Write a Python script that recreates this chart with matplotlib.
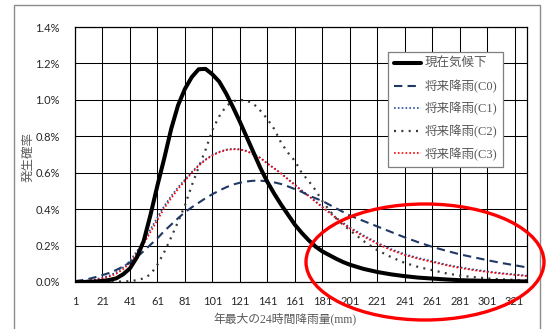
import matplotlib
matplotlib.use('Agg')
import matplotlib.pyplot as plt
from matplotlib.patches import Ellipse, Rectangle
from matplotlib.ticker import FuncFormatter

# rainfall (mm): step 5 up to 201, then step 10
rain = list(range(1, 202, 5)) + list(range(211, 322, 10)) + [330]

# probability (%)
current = [0.000, 0.000, 0.001, 0.003, 0.006, 0.011, 0.020, 0.042, 0.075, 0.135,
           0.225, 0.370, 0.530, 0.680, 0.840, 0.970, 1.060, 1.125, 1.168, 1.170,
           1.140, 1.100, 1.035, 0.960, 0.880, 0.795, 0.710, 0.625, 0.550, 0.485,
           0.425, 0.370, 0.315, 0.270, 0.230, 0.195, 0.168, 0.148, 0.128, 0.110,
           0.095,
           0.072, 0.055, 0.042, 0.032, 0.024, 0.019, 0.014, 0.010, 0.008, 0.006,
           0.005, 0.004, 0.003]
c0 = [0.005, 0.010, 0.017, 0.027, 0.038, 0.050, 0.066, 0.085, 0.107, 0.135,
      0.170, 0.205, 0.240, 0.280, 0.315, 0.350, 0.383, 0.410, 0.435, 0.460,
      0.482, 0.502, 0.520, 0.535, 0.545, 0.552, 0.556, 0.556, 0.553, 0.547,
      0.538, 0.525, 0.510, 0.495, 0.475, 0.460, 0.445, 0.425, 0.405, 0.385,
      0.365,
      0.335, 0.305, 0.275, 0.245, 0.218, 0.193, 0.172, 0.152, 0.136, 0.120,
      0.105, 0.092, 0.080]
c1 = [0.003, 0.005, 0.009, 0.015, 0.024, 0.036, 0.053, 0.080, 0.117, 0.168,
      0.225, 0.290, 0.355, 0.418, 0.472, 0.520, 0.563, 0.604, 0.642, 0.673,
      0.698, 0.715, 0.727, 0.731, 0.729, 0.720, 0.702, 0.682, 0.652, 0.625,
      0.597, 0.566, 0.535, 0.503, 0.475, 0.444, 0.414, 0.385, 0.355, 0.326,
      0.300,
      0.256, 0.216, 0.181, 0.153, 0.132, 0.114, 0.096, 0.081, 0.069, 0.058,
      0.049, 0.042, 0.035]
c2 = [0.000, 0.000, 0.000, 0.000, 0.000, 0.001, 0.002, 0.003, 0.005, 0.010,
      0.020, 0.042, 0.095, 0.165, 0.245, 0.330, 0.420, 0.530, 0.630, 0.725,
      0.835, 0.910, 0.965, 0.993, 1.000, 0.995, 0.978, 0.940, 0.895, 0.840,
      0.765, 0.710, 0.665, 0.600, 0.555, 0.505, 0.445, 0.395, 0.350, 0.315,
      0.285,
      0.225, 0.175, 0.137, 0.105, 0.082, 0.065, 0.048, 0.035, 0.027, 0.020,
      0.015, 0.012, 0.009]
c3 = [0.002, 0.004, 0.007, 0.012, 0.020, 0.030, 0.045, 0.070, 0.105, 0.155,
      0.210, 0.275, 0.340, 0.405, 0.460, 0.510, 0.555, 0.598, 0.638, 0.670,
      0.695, 0.712, 0.724, 0.729, 0.727, 0.718, 0.700, 0.680, 0.650, 0.623,
      0.595, 0.563, 0.532, 0.500, 0.472, 0.440, 0.410, 0.380, 0.350, 0.320,
      0.295,
      0.250, 0.210, 0.175, 0.148, 0.127, 0.110, 0.092, 0.077, 0.065, 0.055,
      0.046, 0.039, 0.032]

labels = ['現在気候下', '将来降雨(C0)', '将来降雨(C1)', '将来降雨(C2)', '将来降雨(C3)']
xticks = list(range(1, 322, 20))
yticks = [0.0, 0.2, 0.4, 0.6, 0.8, 1.0, 1.2, 1.4]

cjk = ['Liberation Serif', 'Noto Sans CJK JP']

fig = plt.figure(figsize=(5.5, 3.29), dpi=100)
ax = fig.add_axes([75 / 550, 47 / 329, 452 / 550, 255 / 329])

ax.plot(rain, current, color='black', lw=2.9, solid_capstyle='round', label=labels[0], zorder=5)
ax.plot(rain, c0, color='#1F3864', lw=1.5, dashes=(4, 2.5), label=labels[1], zorder=4)
ax.plot(rain, c2, color='#3a3a3a', lw=1.6, dashes=(0.9, 2.4), label=labels[3], zorder=3)
ax.plot(rain, c1, color='#2850A0', lw=1.2, dashes=(1, 1.3), label=labels[2], zorder=3)
ax.plot(rain, c3, color='#FF0000', lw=1.2, dashes=(1, 1.3), label=labels[4], zorder=3)

ax.set_xlim(1, 330)
ax.set_ylim(0, 1.4)
ax.set_xticks(xticks)
ax.set_yticks(yticks)
ax.yaxis.set_major_formatter(FuncFormatter(lambda v, p: f'{v:.1f}%'))
ax.grid(True, color='black', lw=0.75)
ax.set_axisbelow(True)
ax.tick_params(length=0, labelsize=8, labelcolor='#262626')
ax.tick_params(axis='y', pad=11)
ax.tick_params(axis='x', pad=10)
for t in ax.get_xticklabels() + ax.get_yticklabels():
    t.set_family('Lato')
for s in ax.spines.values():
    s.set_linewidth(0.9)

handles, labs = ax.get_legend_handles_labels()
order = [labs.index(l) for l in labels]
leg = ax.legend([handles[i] for i in order], labels, loc='upper left',
                bbox_to_anchor=(313 / 452, 230 / 255), borderaxespad=0,
                fancybox=False, edgecolor='#7f7f7f', framealpha=1,
                handlelength=2.1, handletextpad=0.3, labelspacing=0.75,
                borderpad=0.5, prop={'family': cjk, 'size': 9})
leg.get_frame().set_linewidth(0.9)
for t in leg.get_texts():
    t.set_color('#595959')

fig.text(28 / 550, 1 - 157 / 329, '発生確率', rotation=90, ha='center', va='center',
         fontsize=9, color='#595959', family=['Noto Sans CJK JP'])
fig.text(285 / 550, 1 - 320 / 329, '年最大の24時間降雨量(mm)', ha='center', va='center',
         fontsize=8.5, color='#595959', family=cjk)

# outer chart frame
fig.add_artist(Rectangle((14 / 550, -0.05), 526 / 550, 1.05 - 5 / 329,
                         transform=fig.transFigure, fill=False, ec='#8c8c8c', lw=1))
# red emphasis ellipse
fig.add_artist(Ellipse((425 / 550, 1 - 262 / 329), 238 / 550, 116 / 329,
                       transform=fig.transFigure, fill=False, ec='#FF0000', lw=2.4, zorder=10))

fig.savefig('out.png', dpi=100)
